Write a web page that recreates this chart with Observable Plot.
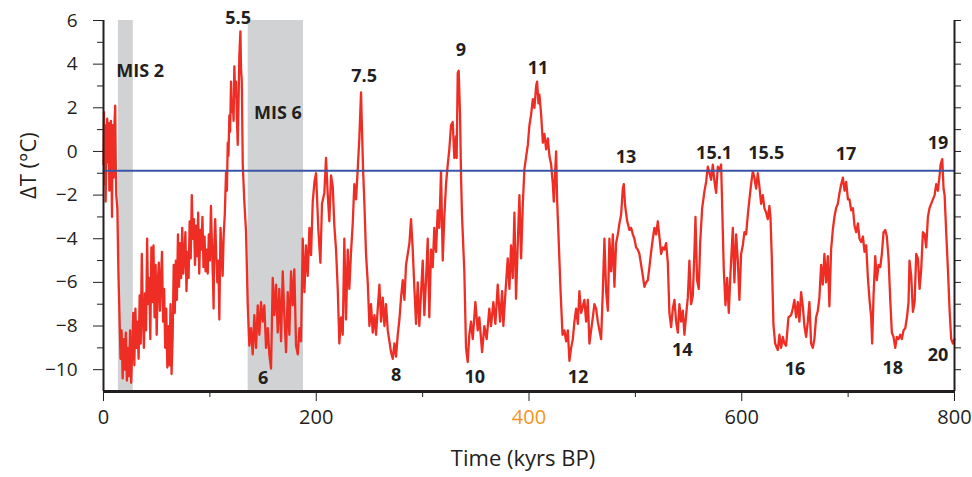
<!DOCTYPE html>
<html>
<head>
<meta charset="utf-8">
<script src="https://cdn.jsdelivr.net/npm/d3@7"></script>
<script src="https://cdn.jsdelivr.net/npm/@observablehq/plot@0.6"></script>
<style>
  body { margin: 0; background: #ffffff; }
  #chart svg { display: block; }
</style>
</head>
<body>
<div id="chart"></div>
<script>
// ---- Data (age in kyrs BP, temperature anomaly ΔT in °C) ----
const cycle0to96 = [[0,-0.6],[0.5,1.8],[1,-1.5],[1.5,1.2],[2,-2.3],[3,0.8],[3.5,1.5],[4,-0.5],[5,1.3],[5.5,-1.8],[6,0.9],[7,1.4],[7.5,-0.8],[8,-3.0],[8.5,0.5],[9,1.2],[9.5,-1.2],[10,0.9],[11,2.1],[11.5,-0.5],[12,-2.0],[13,-2.6],[14,-5.5],[15,-7.5],[16,-9.5],[17,-8.2],[18,-10.4],[19,-8.6],[20,-10.0],[21,-8.3],[22,-10.5],[23,-9.0],[24,-10.3],[25,-8.2],[26,-10.6],[27,-9.1],[28,-7.4],[29,-9.8],[30,-7.2],[31,-9.0],[32,-7.8],[33,-9.5],[34,-6.6],[35,-8.8],[36,-4.7],[37,-7.5],[38,-9.0],[39,-6.5],[40,-8.2],[41,-4.0],[42,-7.0],[43,-5.8],[44,-8.6],[45,-4.4],[46,-6.9],[47,-4.3],[48,-7.6],[49,-5.2],[50,-8.4],[51,-6.0],[52,-5.1],[53,-7.3],[54,-5.9],[55,-4.6],[56,-7.8],[57,-6.3],[58,-9.0],[59,-7.2],[60,-9.9],[61,-8.0],[62,-9.8],[63,-7.0],[64,-10.2],[65,-8.5],[66,-5.2],[67,-7.4],[68,-5.0],[69,-6.8],[70,-3.8],[71,-6.2],[72,-4.2],[73,-5.8],[74,-3.5],[75,-5.6],[76,-4.8],[77,-3.7],[78,-6.4],[79,-4.6],[80,-5.8],[81,-3.2],[82,-4.9],[83,-2.0],[84,-4.0],[85,-3.1],[86,-5.2],[87,-3.4],[88,-4.8],[89,-2.8],[90,-5.6],[91,-3.6],[92,-4.5],[93,-3.0],[94,-5.3],[95,-3.9]];
const cycle96to137 = [[96,-5.5],[97,-4.5],[98,-5.6],[99,-3.8],[100,-5.0],[101,-2.5],[102,-4.4],[103,-6.0],[103.5,-7.2],[104,-4.5],[105,-3.1],[106,-4.8],[107,-6.0],[108,-5.0],[108.9,-7.7],[110,-3.5],[111,-4.6],[112,-5.7],[113,-3.8],[114,-2.9],[115.2,-0.95],[116,-1.8],[116.8,0.4],[117.5,-0.2],[118.3,1.65],[119,0.9],[119.9,3.2],[120.7,1.8],[121.5,2.3],[122.3,1.4],[123,3.9],[123.8,2.5],[124.6,3.2],[125.4,1.5],[126.2,0.3],[127,2.4],[127.7,4.4],[128.7,5.5],[129.3,3.8],[130,3.2],[130.9,-0.6],[132.4,-2.3],[134,-3.7],[135.6,-7.05]];
const cycle137to200 = [[137.1,-8.9],[138.7,-8.1],[140.3,-9.3],[141.8,-7.5],[143.4,-9.0],[145,-7.05],[146.5,-8.4],[148.1,-6.9],[149.7,-7.8],[151.2,-7.05],[152.8,-9.0],[154.4,-8.1],[155.9,-9.3],[157.5,-9.95],[159.1,-5.8],[160.6,-7.5],[162.2,-6.1],[163.8,-8.3],[165.3,-6.3],[166.9,-8.7],[168.5,-5.5],[170,-7.5],[171.6,-9.2],[173.2,-6.45],[174.7,-8.4],[176.3,-5.5],[177.9,-7.05],[179.4,-5.4],[181,-8.9],[182.6,-9.3],[184.2,-8.1],[185.7,-8.7],[187.3,-4.0],[188.9,-6.45],[190.4,-4.3],[192,-5.7],[193.6,-3.5],[195.1,-4.75],[196.7,-2.3],[198.3,-1.4],[199.8,-1.0]];
const cycle200to297 = [[202,-3.6],[203.9,-5.1],[205.4,-2.4],[207.6,-1.9],[209.2,-0.3],[210.8,-2.0],[212.3,-3.2],[213.9,-1.1],[215.5,-1.6],[217,-3.4],[218.6,-4.5],[220.2,-6.3],[221.7,-8.8],[223.3,-7.6],[224.9,-8.4],[226.4,-4.0],[228,-7.7],[229.6,-4.5],[231.1,-6.3],[232.7,-4.6],[234.3,-3.3],[235.8,-1.5],[237.4,-2.2],[239,-0.8],[240.5,0.6],[242.1,2.7],[243,1.0],[244,-0.8],[245.2,-2.3],[246.8,-4.7],[248.4,-6.0],[250,-8.0],[251.5,-7.0],[253.1,-8.3],[254.7,-7.5],[256.2,-8.4],[257.8,-7.2],[259.4,-6.1],[260.9,-7.8],[262.5,-6.7],[264.1,-8.0],[265.6,-7.0],[267.2,-8.2],[268.8,-8.7],[270.3,-9.2],[271.9,-9.5],[273.5,-8.8],[275,-9.4],[276.6,-8.4],[278.2,-7.7],[279.7,-6.7],[281.3,-5.9],[282.9,-6.8],[284.4,-5.2],[286,-4.7],[287.6,-4.2],[289.1,-3.1],[290.7,-4.5],[292.3,-6.3],[293.8,-7.9],[295.4,-6.0]];
const cycle297to393 = [[296.9,-8.0],[298.5,-6.5],[300.1,-5.0],[301.6,-7.5],[303.2,-5.9],[304.8,-4.0],[306.3,-7.6],[307.9,-4.5],[309.5,-5.3],[311,-3.5],[312.6,-4.6],[314.2,-2.7],[315.7,-3.5],[317.3,-0.9],[318.9,-5.0],[320.4,-3.0],[322,-1.5],[323.6,-0.6],[325.1,0.1],[326.7,1.2],[328.3,1.35],[329.8,-0.3],[331.4,0.7],[332,-0.3],[333,3.6],[333.9,3.7],[335.2,1.65],[336.1,-1.1],[337,-2.9],[339.2,-5.5],[340.8,-9.0],[342.4,-9.65],[343.9,-8.4],[345.5,-7.8],[347.1,-8.6],[349.6,-6.9],[351.8,-8.2],[353.3,-7.6],[355.9,-9.2],[358,-8.0],[360.2,-8.6],[362.7,-7.2],[364.3,-8.0],[366.5,-6.9],[368.4,-7.9],[370.6,-6.1],[372.8,-7.8],[374.7,-6.4],[375.9,-8.0],[377.8,-6.5],[380,-4.9],[381.6,-6.3],[383.1,-4.3],[384.7,-5.8],[386.3,-2.8],[387.8,-6.75],[389.4,-4.3],[391,-2.0],[392.6,-4.9]];
const cycle393to491 = [[394.2,-2.4],[395.7,-0.8],[398.9,0.3],[400.4,1.2],[402,1.7],[403.6,2.4],[405.1,2.0],[406.7,3.0],[407.6,3.2],[408.9,2.2],[409.8,2.6],[411.4,1.7],[413,0.4],[414.5,0.8],[416.1,0.1],[417.7,0.6],[419.2,-0.2],[420.8,-0.6],[422.4,-1.5],[423.3,-2.3],[425.5,0.0],[426.4,-2.2],[427.7,-3.8],[429.6,-6.3],[431.5,-8.4],[433.3,-8.2],[434.9,-8.7],[436.5,-8.2],[438,-9.6],[439.6,-9.0],[441.2,-8.6],[442.7,-7.8],[444.3,-7.2],[445.9,-7.9],[447.4,-6.4],[449,-7.4],[450.6,-7.1],[452.1,-6.8],[453.7,-7.8],[455.3,-6.8],[456.8,-8.8],[458.4,-8.2],[460,-7.6],[461.5,-7.0],[463.1,-7.2],[464.7,-7.8],[466.2,-8.2],[467.8,-8.6],[469.4,-6.4],[470.9,-4.0],[472.5,-6.4],[474.1,-7.3],[475.6,-4.0],[477.2,-5.5],[478.8,-3.8],[480.3,-6.2],[481.9,-4.2],[483.5,-3.8],[485,-3.3],[486.6,-2.9],[488.2,-1.7],[489.1,-1.5],[490.4,-2.5]];
const cycle491to590 = [[492.3,-3.2],[494.4,-3.6],[496,-3.5],[497.6,-3.8],[499.1,-4.0],[500.7,-4.4],[502.3,-4.5],[503.8,-4.7],[505.4,-5.2],[507,-5.7],[508.5,-6.2],[510.1,-6.0],[511.7,-5.9],[513.2,-5.3],[514.8,-4.6],[516.4,-4.0],[517.9,-3.5],[519.5,-3.8],[521.1,-3.2],[522.6,-3.9],[524.2,-4.7],[525.8,-4.4],[527.3,-4.5],[528.9,-4.2],[530.5,-5.1],[532,-7.4],[533.6,-8.05],[535.2,-7.2],[536.7,-6.8],[538.3,-7.8],[539.9,-8.3],[541.4,-7.0],[543,-7.8],[544.6,-7.3],[546.1,-8.4],[547.7,-7.5],[549.3,-6.7],[550.8,-5.0],[552.4,-7.0],[554,-6.6],[555.5,-4.6],[556.5,-3.0],[558,-5.9],[559.6,-6.3],[560.9,-4.2],[562.8,-2.6],[565,-1.8],[566.5,-1.4],[568.1,-0.7],[569.7,-1.0],[571.2,-1.3],[572.8,-0.6],[574.4,-1.4],[575.9,-1.9],[577.5,-0.7],[579,-0.9],[580.6,-0.6],[581.6,-2.5],[583.1,-5.4],[584.7,-7.05],[586.3,-5.8],[587.8,-7.4],[589.4,-5.6]];
const cycle590to689 = [[591.6,-3.5],[593.1,-6.0],[594.7,-3.8],[596.3,-5.0],[597.8,-6.8],[599.4,-4.7],[601,-4.3],[602.5,-3.7],[604.1,-3.8],[605.7,-2.9],[607.2,-2.2],[608.8,-1.5],[610.4,-0.9],[611.9,-1.2],[613.5,-1.7],[615.1,-1.0],[616.6,-1.6],[618.2,-2.4],[619.8,-2.0],[621.3,-2.6],[622.9,-2.8],[624.5,-3.1],[626,-2.5],[627,-3.0],[628.2,-4.8],[629.8,-7.95],[631.4,-8.8],[633.9,-9.1],[635.4,-8.4],[637,-9.0],[638.6,-8.5],[640.1,-8.8],[641.7,-8.9],[643.9,-7.6],[646.4,-7.5],[648,-7.2],[649.5,-6.8],[651.1,-7.6],[652.7,-6.9],[654.2,-7.8],[655.8,-6.45],[657.4,-7.1],[658.9,-8.0],[660.5,-8.5],[662.1,-7.8],[663.6,-6.9],[665.2,-8.8],[666.8,-9.0],[668.3,-8.6],[669.9,-7.6],[671.5,-7.3],[673,-6.7],[674.6,-5.2],[676.2,-6.1],[677.7,-4.7],[679.3,-6.0],[680.9,-4.8],[682.4,-7.1],[684,-4.5],[685.6,-3.6],[687.1,-3.0],[688.7,-2.6]];
const cycle689to800 = [[690.3,-2.4],[691.9,-1.9],[693.5,-1.5],[695.1,-1.2],[696.6,-1.8],[698.2,-1.4],[699.8,-2.2],[701.3,-2.2],[702.9,-2.7],[704.5,-2.6],[706,-3.4],[707.6,-3.7],[709.2,-3.3],[710.7,-4.0],[712.3,-4.15],[713.9,-3.9],[715.4,-4.6],[717,-4.3],[718.6,-5.8],[720.1,-6.8],[721.7,-7.6],[722.6,-8.8],[723.9,-6.6],[725.5,-4.8],[727,-5.9],[728.6,-5.2],[730.2,-5.3],[731.7,-4.7],[733.3,-3.7],[734.9,-3.6],[736.4,-3.9],[738,-4.9],[739.6,-6.8],[741.1,-8.3],[742.7,-8.5],[744.3,-9.0],[745.8,-8.5],[747.4,-8.6],[749,-8.4],[750.5,-8.6],[752.1,-8.2],[753.7,-8.1],[755.3,-7.6],[756.8,-6.9],[757.7,-5.0],[759.3,-5.7],[760.9,-7.35],[762.5,-6.9],[764,-4.7],[765.6,-4.9],[767.2,-6.3],[768.7,-5.4],[770.3,-3.7],[771.9,-3.8],[773.4,-4.4],[775,-3.0],[776.5,-2.6],[778.1,-2.4],[779.7,-2.2],[781.3,-2.0],[782.8,-1.5],[784.4,-1.8],[786,-1.1],[786.9,-0.6],[788.5,-0.35],[789.7,-1.7],[790.7,-2.0],[792.2,-3.7],[793.8,-5.4],[795.4,-7.3],[796.9,-8.6],[798.5,-8.8],[800,-8.6]];

// Reference level (blue line)
const referenceLevel = -0.88;

// Shaded marine isotope stages
const bandStart = [14, 136];
const bandEnd = [28, 188];

// Stage annotations
const stageText  = ["MIS 2","5.5","MIS 6","6","7.5","8","9","10","11","12","13","14","15.1","15.5","16","17","18","19","20"];
const stageAge   = [34.5, 126.5, 164, 150, 245, 275, 336, 349, 408.5, 446, 491.3, 544, 574, 623, 650, 698, 742, 784.5, 784.5];
const stageTemp  = [3.66, 6.1, 1.74, -10.4, 3.43, -10.26, 4.63, -10.35, 3.8, -10.35, -0.28, -9.1, -0.1, -0.1, -10.0, -0.15, -9.95, 0.36, -9.35];

// Ticks
const xMajorTicks = [0, 200, 400, 600, 800];
const xMinorTicks = [100, 300, 500, 700];
const yMajorTicks = [-10, -8, -6, -4, -2, 0, 2, 4, 6];
const yMinorTicks = [-9, -7, -5, -3, -1, 1, 3, 5];
const highlightTick = 400;

// ---- Build ----
const series = [].concat(cycle0to96, cycle96to137, cycle137to200, cycle200to297,
  cycle297to393, cycle393to491, cycle491to590, cycle590to689, cycle689to800)
  .map(([age, dT]) => ({age, dT}));
const bands = bandStart.map((s, i) => ({start: s, end: bandEnd[i]}));
const stages = stageText.map((t, i) => ({text: t, age: stageAge[i], dT: stageTemp[i]}));

const ink = "#231f20";
const font = "'Open Sans', 'DejaVu Sans', sans-serif";

const chart = Plot.plot({
  width: 972,
  height: 477,
  marginLeft: 103,
  marginRight: 18,
  marginTop: 20,
  marginBottom: 86,
  style: {fontFamily: font, background: "#ffffff"},
  x: {domain: [0, 800]},
  y: {domain: [-11, 6]},
  marks: [
    Plot.rect(bands, {x1: "start", x2: "end", y1: -11, y2: 6, fill: "#d1d2d3"}),
    Plot.line(series, {x: "age", y: "dT", stroke: "#ee2e24", strokeWidth: 2.3, strokeLinejoin: "round"}),
    Plot.ruleY([referenceLevel], {stroke: "#3a55a5", strokeWidth: 2}),
    Plot.text(stages, {x: "age", y: "dT", text: "text", fontWeight: "bold", fontSize: 18, fill: ink}),
    // axes
    Plot.axisY({ticks: yMajorTicks, tickSize: 10, tickPadding: 16, fontSize: 19, color: ink, label: null}),
    Plot.axisY({ticks: yMinorTicks, tickSize: 6, tickFormat: () => "", color: ink, label: null}),
    Plot.axisY({anchor: "right", ticks: yMajorTicks.concat(yMinorTicks), tickSize: 6, tickFormat: () => "", color: ink, label: null}),
    Plot.axisX({ticks: xMajorTicks, tickSize: 10, tickFormat: () => "", color: ink, label: null}),
    Plot.axisX({ticks: xMinorTicks, tickSize: 6, tickFormat: () => "", color: ink, label: null}),
    Plot.text(xMajorTicks, {x: d => d, frameAnchor: "bottom", dy: 32, text: d => String(d), fontSize: 20,
      fill: d => d === highlightTick ? "#f7941d" : ink}),
    Plot.ruleX([0], {stroke: ink, strokeWidth: 2}),
    Plot.ruleX([800], {stroke: ink, strokeWidth: 2}),
    Plot.ruleY([-11], {stroke: ink, strokeWidth: 3}),
    Plot.text(["Time (kyrs BP)"], {frameAnchor: "bottom", dx: -6, dy: 74, fontSize: 22, fill: ink}),
    Plot.text(["ΔT (°C)"], {frameAnchor: "left", dx: -75, dy: -7, rotate: -90, fontSize: 22, fill: ink})
  ]
});

document.getElementById("chart").appendChild(chart);
</script>
</body>
</html>
